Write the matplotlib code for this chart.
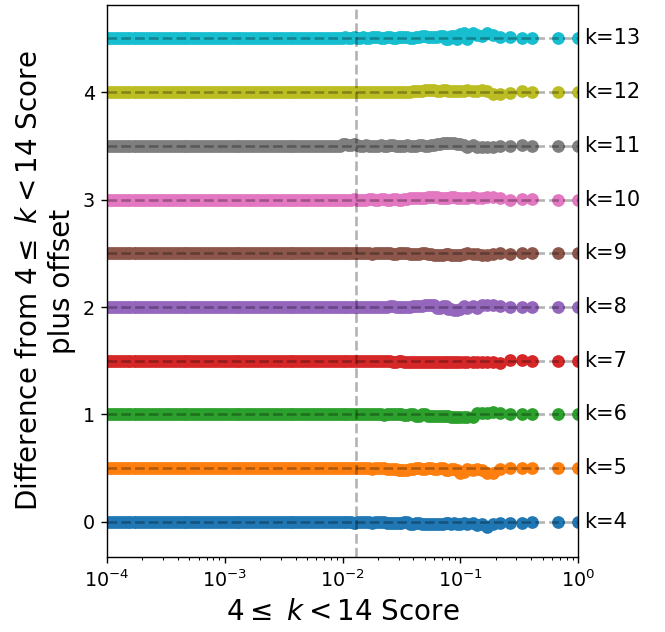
import matplotlib
matplotlib.use("Agg")
import matplotlib.pyplot as plt

# Scores below 0.01 (shared by all k); the differences there read as ~0
x_low = [
    6e-5, 7e-5, 8.5e-5,
    1.0e-4, 1.06e-4, 1.12e-4, 1.19e-4, 1.26e-4, 1.33e-4, 1.41e-4, 1.5e-4, 1.58e-4, 1.68e-4,
    1.78e-4, 1.88e-4, 2.0e-4, 2.11e-4, 2.24e-4, 2.37e-4, 2.51e-4, 2.66e-4, 2.82e-4, 2.99e-4,
    3.16e-4, 3.35e-4, 3.55e-4, 3.76e-4, 3.98e-4, 4.22e-4, 4.47e-4, 4.73e-4, 5.01e-4, 5.31e-4,
    5.62e-4, 5.96e-4, 6.31e-4, 6.68e-4, 7.08e-4, 7.5e-4, 7.94e-4, 8.41e-4, 8.91e-4, 9.44e-4,
    1.0e-3, 1.06e-3, 1.12e-3, 1.19e-3, 1.26e-3, 1.33e-3, 1.41e-3, 1.5e-3, 1.58e-3, 1.68e-3,
    1.78e-3, 1.88e-3, 2.0e-3, 2.11e-3, 2.24e-3, 2.37e-3, 2.51e-3, 2.66e-3, 2.82e-3, 2.99e-3,
    3.16e-3, 3.35e-3, 3.55e-3, 3.76e-3, 3.98e-3, 4.22e-3, 4.47e-3, 4.73e-3, 5.01e-3, 5.31e-3,
    5.62e-3, 5.96e-3, 6.31e-3, 6.68e-3, 7.08e-3, 7.5e-3, 7.94e-3, 8.41e-3, 8.91e-3, 9.44e-3,
]
low_diff = [
    0, 0, 0,
    0, 0, 0, 0, 0, 0, 0, 0, 0, 0,
    0, 0, 0, 0, 0, 0, 0, 0, 0, 0,
    0, 0, 0, 0, 0, 0, 0, 0, 0, 0,
    0, 0, 0, 0, 0, 0, 0, 0, 0, 0,
    0, 0, 0, 0, 0, 0, 0, 0, 0, 0,
    0, 0, 0, 0, 0, 0, 0, 0, 0, 0,
    0, 0, 0, 0, 0, 0, 0, 0, 0, 0,
    0, 0, 0, 0, 0, 0, 0, 0, 0, 0,
]

# Scores from 0.01 upward (shared by all k)
x_high = [
    1.0e-2, 1.06e-2, 1.12e-2, 1.19e-2, 1.26e-2, 1.33e-2, 1.41e-2, 1.5e-2, 1.58e-2, 1.68e-2,
    1.78e-2, 1.88e-2, 2.0e-2, 2.11e-2, 2.24e-2, 2.37e-2, 2.51e-2, 2.66e-2, 2.82e-2, 2.99e-2,
    3.16e-2, 3.35e-2, 3.55e-2, 3.76e-2, 3.98e-2, 4.22e-2, 4.47e-2, 4.73e-2, 5.01e-2, 5.31e-2,
    5.62e-2, 5.96e-2, 6.31e-2, 6.68e-2, 7.08e-2, 7.5e-2, 7.94e-2, 8.41e-2, 8.91e-2, 9.44e-2,
    0.100, 0.107, 0.115, 0.128, 0.140, 0.152, 0.169, 0.190, 0.216, 0.263, 0.334, 0.406, 0.676, 1.0,
]

k_values = [4, 5, 6, 7, 8, 9, 10, 11, 12, 13]
offsets = [0.0, 0.5, 1.0, 1.5, 2.0, 2.5, 3.0, 3.5, 4.0, 4.5]

diff_k4 = [0, 0, 0, 0, -.005, 0, 0, 0, 0, 0,
           -.005, 0, 0, 0, 0, -.01, -.01, -.005, -.005, -.01,
           -.01, 0, 0, -.015, -.015, -.01, -.01, -.02, -.02, -.02,
           -.02, -.015, -.015, -.02, -.02, -.01, -.01, -.015, -.01, -.015,
           -.015, -.01, -.02, -.01, -.03, -.02, -.05, -.02, -.01, -.005, -.01, 0, 0, 0]
diff_k5 = [0, 0, 0, 0, 0, 0, 0, 0, 0, 0,
           -.003, 0, 0, 0, 0, -.005, -.005, -.01, -.01, -.015,
           -.015, -.015, -.015, -.01, -.01, 0, 0, -.01, -.01, 0,
           0, -.01, -.01, 0, 0, -.015, -.015, -.01, -.01, -.02,
           -.04, -.035, -.01, -.015, -.01, -.02, -.045, -.04, -.01, 0, .005, 0, 0, 0]
diff_k6 = [0, 0, 0, 0, 0, 0, 0, 0, 0, 0,
           0, 0, 0, 0, -.003, 0, 0, 0, 0, 0,
           0, -.005, -.005, 0, 0, -.01, -.01, 0, 0, -.01,
           -.01, -.015, -.015, -.01, -.01, -.015, -.015, -.025, -.025, -.02,
           -.025, -.02, -.025, -.02, .01, .015, .015, .02, .01, 0, .005, 0, 0, 0]
diff_k7 = [0, 0, 0, 0, 0, 0, 0, 0, -.003, 0,
           0, 0, 0, -.005, -.005, 0, 0, -.01, -.01, 0,
           0, -.01, -.01, -.015, -.015, -.01, -.01, -.015, -.015, -.015,
           -.015, -.01, -.01, -.015, -.015, -.01, -.01, -.015, -.015, -.01,
           -.015, -.01, -.015, -.01, -.015, -.01, -.015, -.01, -.02, .01, .01, 0, 0, 0]
diff_k8 = [0, 0, 0, 0, 0, 0, 0, 0, .003, 0,
           0, 0, 0, 0, 0, 0, .005, .005, 0, 0,
           0, 0, 0, 0, .005, .005, .01, .01, .015, .015,
           .015, .015, -.01, -.01, .01, .01, -.02, -.02, -.03, -.03,
           -.02, .01, -.01, .01, -.01, .015, .02, .02, .005, 0, 0, 0, 0, 0]
diff_k9 = [0, 0, 0, 0, 0, 0, 0, 0, 0, 0,
           -.003, 0, 0, 0, 0, 0, 0, -.005, -.005, 0,
           0, 0, 0, -.005, -.005, -.01, -.01, 0, 0, -.01,
           -.01, -.02, -.02, -.02, -.02, -.01, -.01, -.02, -.02, -.02,
           -.02, -.01, .005, -.01, -.01, -.015, -.02, -.01, 0, -.005, 0, 0, 0, 0]
diff_k10 = [0, 0, 0, 0, .003, 0, 0, 0, 0, .003,
            .003, 0, 0, .005, .005, 0, 0, .005, .005, 0,
            0, .005, .005, .01, .01, .01, .01, .015, .015, .02,
            .02, .02, .02, .01, .01, .015, .015, .02, .02, .015,
            .015, .01, .015, .02, .01, .015, .02, .02, .01, 0, .005, .005, 0, 0]
diff_k11 = [.015, .015, .01, .01, .015, .01, 0, 0, .005, 0,
            0, 0, 0, .005, 0, 0, .005, .005, 0, 0,
            0, 0, .005, 0, 0, 0, .01, .01, 0, 0,
            .01, .01, .02, .02, .025, .025, .03, .03, .025, .02,
            .02, .01, -.01, .01, -.01, -.01, -.015, -.015, -.005, 0, .005, 0, 0, 0]
diff_k12 = [0, 0, 0, 0, .003, .003, 0, 0, 0, 0,
            .003, .003, 0, 0, .005, .005, 0, 0, 0, 0,
            .005, .005, 0, 0, .01, .01, .01, .01, .015, .015,
            .015, .015, .01, .01, .015, .015, .01, .01, .01, .01,
            .01, .01, .015, .01, .01, .015, .01, -.015, -.015, -.01, .01, .005, 0, 0]
diff_k13 = [.005, .01, .005, .005, .01, .005, .005, .01, .005, .005,
            .01, .01, .015, .005, .005, .01, .01, .005, .005, .015,
            .015, .01, .01, .005, .005, .015, .015, .02, .02, .015,
            .015, .01, .01, .02, .02, -.01, -.01, .02, .02, -.01,
            .04, .045, -.01, .05, .03, .02, .05, .03, .01, .01, 0, .005, 0, 0]

diffs = [diff_k4, diff_k5, diff_k6, diff_k7, diff_k8, diff_k9, diff_k10, diff_k11, diff_k12, diff_k13]
colors = ['tab:blue', 'tab:orange', 'tab:green', 'tab:red', 'tab:purple',
          'tab:brown', 'tab:pink', 'tab:gray', 'tab:olive', 'tab:cyan']
threshold = 0.013

fig = plt.figure(figsize=(665 / 125, 632 / 125), dpi=125)
ax = fig.add_axes([107 / 665, 75 / 632, 471 / 665, 552 / 632])

for k, off, d, c in zip(k_values, offsets, diffs, colors):
    nl = min(len(x_low), len(low_diff))
    nh = min(len(x_high), len(d))
    xs = x_low[:nl] + x_high[:nh]
    ys = [off + v for v in low_diff[:nl]] + [off + v for v in d[:nh]]
    ax.scatter(xs, ys, s=40, color=c, zorder=2)
    ax.axhline(off, color='k', ls='--', lw=1.5, alpha=0.3, zorder=3)
    ax.text(1.012, off, f'k={k}', transform=ax.get_yaxis_transform(),
            va='center', ha='left', fontsize=12)

ax.axvline(threshold, color='k', ls='--', lw=1.5, alpha=0.3, zorder=3)
ax.set_xscale('log')
ax.set_xlim(1e-4, 1)
ax.set_ylim(-0.326, 4.81)
ax.tick_params(labelsize=11)
ax.set_xlabel(r'$4\leq\ k<14$ Score', fontsize=16)
ax.set_ylabel('Difference from $4\\leq\\ k<14$ Score\nplus offset', fontsize=16)

fig.savefig('out.png', dpi=125)
